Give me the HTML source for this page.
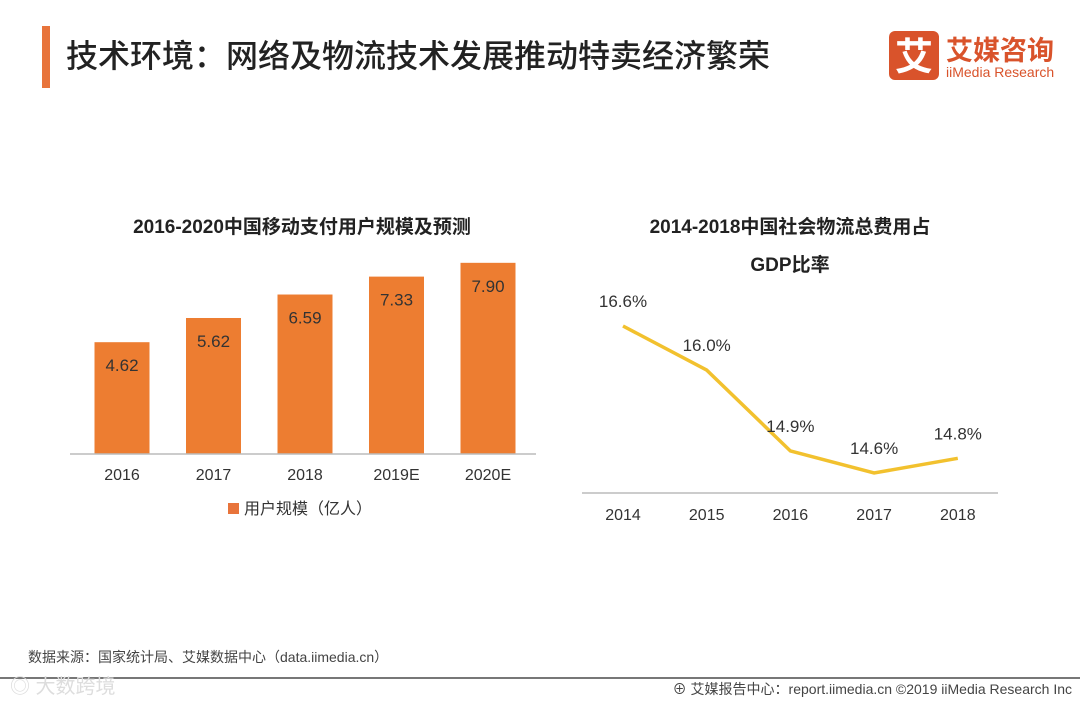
<!DOCTYPE html>
<html><head><meta charset="utf-8"><style>
body{margin:0;background:#fff;}
#wrap{position:relative;width:1080px;height:702px;overflow:hidden;background:#fff;font-family:"Liberation Sans","Noto Sans CJK SC",sans-serif;}
</style></head><body>
<div id="wrap">
<svg width="1080" height="702" xmlns="http://www.w3.org/2000/svg" style="position:absolute;left:0;top:0" font-family="Liberation Sans, Noto Sans CJK SC, sans-serif">
<rect x="42" y="26" width="8" height="62" fill="#e8743b"/>
<text x="66" y="67" font-size="32" fill="#222" font-weight="500">技术环境：网络及物流技术发展推动特卖经济繁荣</text>
<g>
<rect x="889" y="31" width="50" height="49" rx="6" fill="#d9532b"/>
<text x="914" y="70" font-size="38" fill="#fff" text-anchor="middle" font-weight="bold">艾</text>
<text x="946" y="60" font-size="27" fill="#d9532b" font-weight="bold">艾媒咨询</text>
<text x="946" y="77" font-size="14" fill="#d9532b">iiMedia Research</text>
</g>
<text x="302" y="233" font-size="19" font-weight="bold" text-anchor="middle" fill="#222">2016-2020中国移动支付用户规模及预测</text>
<g id="bars"></g>
<line x1="70" y1="454" x2="536" y2="454" stroke="#bbb" stroke-width="1.5"/>
<rect x="228" y="503" width="11" height="11" fill="#e8743b"/>
<text x="244" y="514" font-size="16" fill="#333">用户规模（亿人）</text>
<text x="790" y="233" font-size="19" font-weight="bold" text-anchor="middle" fill="#222">2014-2018中国社会物流总费用占</text>
<text x="790" y="271" font-size="19" font-weight="bold" text-anchor="middle" fill="#222">GDP比率</text>
<line x1="582" y1="493" x2="998" y2="493" stroke="#bbb" stroke-width="1.5"/>
<g id="line"></g>
<text x="28" y="662" font-size="14" fill="#444">数据来源：国家统计局、艾媒数据中心（data.iimedia.cn）</text>
<line x1="0" y1="678" x2="1080" y2="678" stroke="#777" stroke-width="2"/>
<text x="10" y="693" font-size="20" fill="#ddd">◎ 大数跨境</text>
<text x="1072" y="694" font-size="14" fill="#444" text-anchor="end">⊕ 艾媒报告中心：report.iimedia.cn  ©2019  iiMedia Research Inc</text>
</svg>
<script>
const barCats=["2016","2017","2018","2019E","2020E"];
const barVals=[4.62,5.62,6.59,7.33,7.90];
const lineCats=["2014","2015","2016","2017","2018"];
const lineVals=[16.6,16.0,14.9,14.6,14.8];
const NS="http://www.w3.org/2000/svg";
function mk(t,a,p){const e=document.createElementNS(NS,t);for(const k in a)e.setAttribute(k,a[k]);p.appendChild(e);return e;}
const bx=i=>122+i*91.5, by=v=>454-v*24.2;
const bg=document.getElementById('bars');
barVals.forEach((v,i)=>{
 const r=mk('rect',{x:bx(i)-27.5,y:by(v),width:55,height:454-by(v),fill:'#ed7d31'},bg);
 
 
 const t=mk('text',{x:bx(i),y:by(v)+29,'font-size':17,fill:'#333','text-anchor':'middle'},bg);t.textContent=v.toFixed(2);
 
 
 const c=mk('text',{x:bx(i),y:480,'font-size':16,fill:'#333','text-anchor':'middle'},bg);c.textContent=barCats[i];
 
 
});
const lx=i=>623+i*83.7, ly=v=>326+(16.6-v)*73.5;
const lg=document.getElementById('line');
const pl=mk('polyline',{points:lineVals.map((v,i)=>lx(i)+','+ly(v)).join(' '),fill:'none',stroke:'#f2c12e','stroke-width':3.5},lg);


lineVals.forEach((v,i)=>{
 const t=mk('text',{x:lx(i),y:ly(v)-19,'font-size':17,fill:'#333','text-anchor':'middle'},lg);t.textContent=v.toFixed(1)+'%';
 
 
 const c=mk('text',{x:lx(i),y:520,'font-size':16,fill:'#333','text-anchor':'middle'},lg);c.textContent=lineCats[i];
 
 
});
</script>
</div>
</body></html>
